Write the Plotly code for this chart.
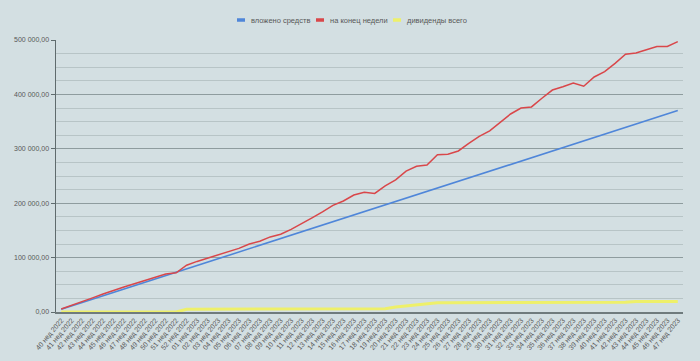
import plotly.graph_objects as go

weeks_2022 = ["40", "41", "42", "43", "44", "45", "46", "47", "48", "49", "50", "51", "52"]
weeks_2023 = ["01", "02", "03", "04", "05", "06", "07", "08", "09", "10", "11", "12", "13", "14", "15",
              "16", "17", "18", "19", "20", "21", "22", "23", "24", "25", "26", "27", "28", "29", "30",
              "31", "32", "33", "34", "35", "36", "37", "38", "39", "40", "41", "42", "43", "44", "45",
              "46", "47"]
categories = [w + " нед 2022" for w in weeks_2022] + [w + " нед 2023" for w in weeks_2023]

invested = [5000, 11200, 17400, 23600, 29800, 36000, 42100, 48300, 54500, 60700,
            66900, 73100, 79300, 85500, 91700, 97900, 104000, 110200, 116400, 122600,
            128800, 135000, 141200, 147400, 153600, 159800, 165900, 172100, 178300, 184500,
            190700, 196900, 203100, 209300, 215500, 221700, 227800, 234000, 240200, 246400,
            252600, 258800, 265000, 271200, 277400, 283600, 289700, 295900, 302100, 308300,
            314500, 320700, 326900, 333100, 339300, 345500, 351600, 357800, 364000, 370200]

week_end = [5500, 12000, 19000, 26000, 33000, 40000, 46000, 52000, 58000, 65000,
            70000, 72000, 86000, 93000, 99000, 104000, 110000, 117000, 125000, 130000,
            138000, 143000, 152000, 162000, 173000, 184000, 196000, 204000, 215000, 220000,
            218000, 232000, 243000, 259000, 268000, 270000, 289000, 290000, 296000, 310000,
            323000, 333000, 349000, 364000, 375000, 377000, 393000, 408000, 414000, 421000,
            415000, 432000, 442000, 457000, 474000, 476000, 482000, 488000, 488000, 497000]

dividends = [0, 0, 0, 0, 0, 0, 0, 0, 0, 0,
             0, 0, 5000, 5000, 5000, 5000, 5000, 5000, 5000, 5000,
             5000, 5000, 5000, 5000, 5200, 5200, 5200, 5200, 5500, 5500,
             5500, 6000, 9000, 11000, 12000, 14000, 17000, 17000, 17000, 17000,
             17000, 17000, 17000, 17000, 17000, 17000, 17000, 17000, 17000, 17000,
             17000, 17000, 17000, 17000, 18000, 19500, 19500, 19500, 19500, 19500]

y_ticks = [0, 100000, 200000, 300000, 400000, 500000]
y_tick_labels = ["0,00", "100 000,00", "200 000,00", "300 000,00", "400 000,00", "500 000,00"]

series_names = ["вложено средств", "на конец недели", "дивиденды всего"]
series_colors = ["#4f86d9", "#d9474a", "#eef06a"]

FONT = "Liberation Sans"
TXT = "#585858"

fig = go.Figure()
fig.add_trace(go.Scatter(x=categories, y=dividends, name=series_names[2], mode="lines",
                         line=dict(color=series_colors[2], width=3)))
fig.add_trace(go.Scatter(x=categories, y=invested, name=series_names[0], mode="lines",
                         line=dict(color=series_colors[0], width=1.6)))
fig.add_trace(go.Scatter(x=categories, y=week_end, name=series_names[1], mode="lines",
                         line=dict(color=series_colors[1], width=1.5)))

# custom compact legend (paper coordinates; plot area 56..683 x 40..312 px)
L, R, T, B = 56, 683, 40, 312
def px_x(p):
    return (p - L) / (R - L)
def px_y(p):
    return (B - p) / (B - T)

legend_x = [237, 316, 393]
shapes = []
annotations = []
for i, name in enumerate(series_names):
    shapes.append(dict(type="line", xref="paper", yref="paper",
                       x0=px_x(legend_x[i]), x1=px_x(legend_x[i] + 8),
                       y0=px_y(20), y1=px_y(20),
                       line=dict(color=series_colors[i], width=3.5)))
    annotations.append(dict(xref="paper", yref="paper", x=px_x(legend_x[i] + 12), y=px_y(20),
                            xanchor="left", yanchor="middle", text=name, showarrow=False,
                            font=dict(family=FONT, size=7.5, color=TXT)))

bg = "#d3dfe2"
fig.update_layout(
    width=700, height=361,
    paper_bgcolor=bg, plot_bgcolor=bg,
    margin=dict(l=L, r=700 - R, t=T, b=361 - B, autoexpand=False),
    font=dict(family=FONT, size=7, color=TXT),
    showlegend=False,
    shapes=shapes, annotations=annotations,
)
fig.update_xaxes(
    type="category", range=[-0.5, 59.5], tickangle=-50,
    showgrid=False, showline=True, linecolor="#6f7b7d", linewidth=1.5,
    tickfont=dict(family=FONT, size=7, color=TXT), ticks="", fixedrange=True,
    layer="below traces", automargin=False,
)
fig.update_yaxes(
    range=[0, 500000], tickvals=y_ticks, ticktext=y_tick_labels,
    showgrid=True, gridcolor="#8e9c9e", gridwidth=1,
    minor=dict(dtick=25000, tick0=0, showgrid=True, gridcolor="#b7c4c6", gridwidth=1),
    showline=True, linecolor="#5f6b6d", linewidth=1.5,
    ticks="outside", ticklen=4, tickcolor="#5f6b6d",
    tickfont=dict(family=FONT, size=7, color=TXT), zeroline=False, automargin=False,
    fixedrange=True,
)

fig.write_html("out.html", config={"displayModeBar": False, "staticPlot": True},
               post_script="document.body.style.margin='0';document.body.style.overflow='hidden';")
